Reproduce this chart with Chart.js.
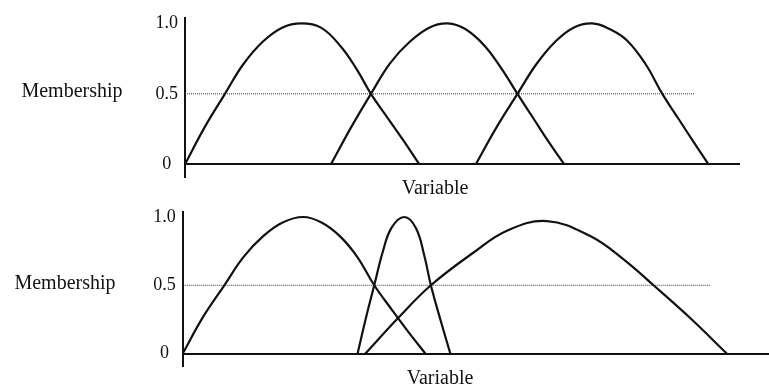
<!DOCTYPE html>
<html>
<head>
<meta charset="utf-8">
<script src="https://cdn.jsdelivr.net/npm/chart.js@4.4.1/dist/chart.umd.min.js"></script>
<style>
  html, body { margin: 0; padding: 0; background: #fff; }
  body { width: 769px; height: 388px; position: relative; overflow: hidden; }
  canvas { position: absolute; left: 0; }
  #topChart { top: 0; }
  #bottomChart { top: 194px; }
</style>
</head>
<body>
<canvas id="topChart" width="769" height="200"></canvas>
<canvas id="bottomChart" width="769" height="194"></canvas>
<script>
'use strict';

/* DATA */

const yTickValues = [0, 0.5, 1];
const yTickLabels = ['0', '0.5', '1.0'];

// top panel - three evenly spaced sets
const topLowX  = [0, 3.5, 7.2, 10.5, 14, 17.5, 21, 24.5, 28, 31, 33.5, 36.5, 39.5, 42.2];
const topLowY  = [0, 0.26, 0.5, 0.71, 0.87, 0.97, 1.0, 0.97, 0.84, 0.67, 0.5, 0.33, 0.16, 0];
const topMidX  = [26.3, 29.9, 33.5, 37, 40.5, 44, 47.3, 50.5, 54, 57, 59.9, 62.7, 65.5, 68.3];
const topMidY  = [0, 0.26, 0.5, 0.72, 0.87, 0.97, 1.0, 0.96, 0.84, 0.68, 0.5, 0.33, 0.16, 0];
const topHighX = [52.4, 56.1, 59.9, 63.3, 66.7, 70, 73.4, 76.5, 79.6, 83, 86, 88.8, 91.6, 94.3];
const topHighY = [0, 0.26, 0.5, 0.71, 0.87, 0.97, 1.0, 0.96, 0.88, 0.71, 0.5, 0.33, 0.16, 0];
const topRefX  = [0, 91.9];

// bottom panel - narrow set in the middle, wide set on the right
const botLowX  = [0, 3.7, 7.5, 11, 14.5, 18, 21.7, 25, 28.3, 31.4, 34.5, 37.5, 40.6, 43.7];
const botLowY  = [0, 0.27, 0.5, 0.71, 0.86, 0.96, 1.0, 0.96, 0.86, 0.71, 0.5, 0.33, 0.16, 0];
const botMidX  = [31.5, 33.0, 34.5, 36.0, 37.6, 39.9, 42.0, 43.5, 44.7, 46.4, 48.2];
const botMidY  = [0, 0.26, 0.5, 0.74, 0.92, 1.0, 0.92, 0.72, 0.5, 0.25, 0];
const botHighX = [32.9, 38.8, 44.7, 52.4, 58.4, 65.6, 73.4, 79.4, 84.8, 91.4, 98.0];
const botHighY = [0, 0.26, 0.5, 0.74, 0.9, 0.97, 0.86, 0.69, 0.5, 0.26, 0];
const botRefX  = [0, 95.0];

const refY = [0.5, 0.5];

/* HELPERS */

function toPoints(xs, ys) {
  return xs.map(function(x, i) { return { x: x, y: ys[i] }; });
}

function curve(xs, ys) {
  return {
    data: toPoints(xs, ys),
    showLine: true,
    borderColor: '#111',
    borderWidth: 2.2,
    pointRadius: 0,
    tension: 0.4,
    fill: false
  };
}

function refLine(xs) {
  return {
    data: toPoints(xs, refY),
    showLine: true,
    borderColor: '#333',
    borderWidth: 1,
    borderDash: [1, 1],
    pointRadius: 0,
    fill: false
  };
}

const serif = '"Liberation Serif", "Times New Roman", serif';

// free text labels (Membership / Variable)
const textLabels = {
  id: 'textLabels',
  afterDraw: function(chart, args, opts) {
    const ctx = chart.ctx;
    ctx.save();
    ctx.font = '20px ' + serif;
    ctx.fillStyle = '#111';
    ctx.textAlign = 'center';
    ctx.textBaseline = 'alphabetic';
    for (let item of opts.items) {
      ctx.fillText(item.text, item.x, item.y);
    }
    ctx.restore();
  }
};

function makeChart(id, p) {
  const ctx = document.getElementById(id).getContext('2d');
  return new Chart(ctx, {
    type: 'scatter',
    data: { datasets: p.datasets },
    plugins: [textLabels],
    options: {
      responsive: false,
      animation: false,
      events: [],
      layout: { padding: { top: p.padTop, right: p.padRight, left: 0, bottom: 0 } },
      plugins: {
        legend: { display: false },
        tooltip: { enabled: false },
        textLabels: { items: p.labels }
      },
      scales: {
        x: {
          type: 'linear',
          min: 0,
          max: p.xMax,
          ticks: { display: false },
          grid: { display: false },
          border: { display: false },
          afterFit: function(scale) { scale.height = p.xHeight; }
        },
        y: {
          type: 'linear',
          min: p.yMin,
          max: p.yMax,
          afterBuildTicks: function(scale) {
            scale.ticks = yTickValues.map(function(v) { return { value: v }; });
          },
          afterFit: function(scale) { scale.width = p.axisWidth; },
          ticks: {
            padding: p.tickPad,
            crossAlign: 'center',
            color: '#111',
            font: { family: serif, size: 18 },
            callback: function(value) {
              return yTickLabels[yTickValues.indexOf(value)];
            }
          },
          grid: {
            drawTicks: false,
            lineWidth: 2,
            color: function(c) {
              return c.tick && c.tick.value === 0 ? '#111' : 'rgba(0,0,0,0)';
            }
          },
          border: { display: true, color: '#111', width: 2 }
        }
      }
    }
  });
}

/* CHARTS */

makeChart('topChart', {
  datasets: [
    curve(topLowX, topLowY),
    curve(topMidX, topMidY),
    curve(topHighX, topHighY),
    refLine(topRefX)
  ],
  xMax: 100,
  yMin: -0.0907,
  yMax: 1.04,
  padTop: 15,
  padRight: 29,
  xHeight: 23,
  axisWidth: 185,
  tickPad: 7,
  labels: [
    { text: 'Membership', x: 72, y: 97 },
    { text: 'Variable', x: 435, y: 194 }
  ]
});

makeChart('bottomChart', {
  datasets: [
    curve(botLowX, botLowY),
    curve(botMidX, botMidY),
    curve(botHighX, botHighY),
    refLine(botRefX)
  ],
  xMax: 105.6,
  yMin: -0.089,
  yMax: 1.038,
  padTop: 15,
  padRight: 0,
  xHeight: 22.3,
  axisWidth: 182.7,
  tickPad: 7,
  labels: [
    { text: 'Membership', x: 65, y: 95 },
    { text: 'Variable', x: 440, y: 190 }
  ]
});
</script>
</body>
</html>
